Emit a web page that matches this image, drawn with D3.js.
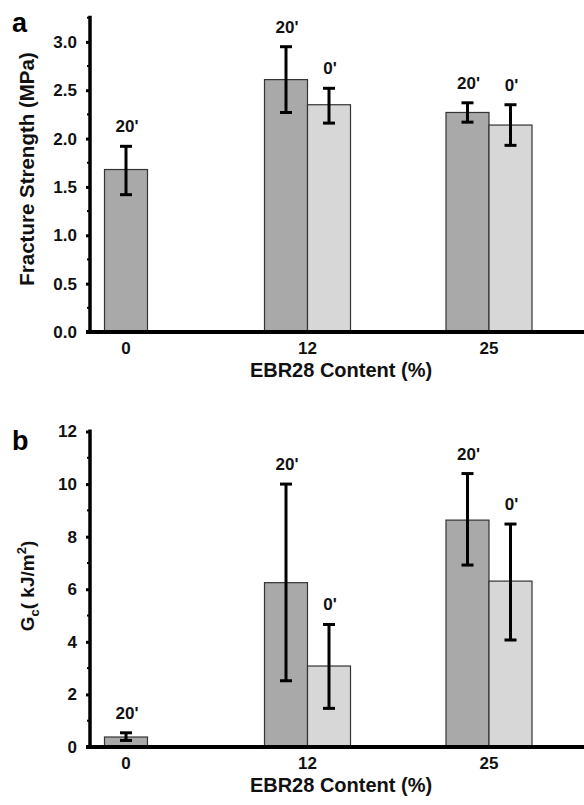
<!DOCTYPE html>
<html>
<head>
<meta charset="utf-8">
<script src="https://cdn.jsdelivr.net/npm/d3@7"></script>
<style>
  body { margin: 0; background: #fff; }
  svg { display: block; font-family: 'Liberation Sans', Arial, sans-serif; font-weight: bold; }
</style>
</head>
<body>
<div id="chart"></div>
<script>
// categories (EBR28 content, %) and series (cure condition)
const categories = ['0', '12', '25'];
const seriesNames = ["20'", "0'"];

// panel a: fracture strength (MPa)
const strength20 = [1.68, 2.61, 2.27];
const strength20Hi = [1.92, 2.95, 2.37];
const strength20Lo = [1.42, 2.27, 2.17];
const strength0 = [null, 2.35, 2.14];
const strength0Hi = [null, 2.52, 2.35];
const strength0Lo = [null, 2.16, 1.93];
const strengthTicks = [0, 0.5, 1.0, 1.5, 2.0, 2.5, 3.0];

// panel b: Gc (kJ/m2)
const gc20 = [0.38, 6.25, 8.63];
const gc20Hi = [0.54, 10.0, 10.4];
const gc20Lo = [0.25, 2.52, 6.92];
const gc0 = [null, 3.08, 6.31];
const gc0Hi = [null, 4.66, 8.48];
const gc0Lo = [null, 1.47, 4.07];
const gcTicks = [0, 2, 4, 6, 8, 10, 12];

const size = { width: 584, height: 805 };
const barW = 43;
const fills = { "20'": '#a9a9a9', "0'": '#d7d7d7' };

const svg = d3.select('#chart').append('svg')
  .attr('width', size.width)
  .attr('height', size.height);

// same x for both panels
const x = d3.scalePoint().domain(categories).range([126, 489]);

function buildRows(means, his, los) {
  // means/his/los are arrays per series, in seriesNames order
  const rows = [];
  categories.forEach((c, i) => {
    seriesNames.forEach((s, j) => {
      if (means[j][i] != null) {
        rows.push({ cat: c, series: s, v: means[j][i], hi: his[j][i], lo: los[j][i] });
      }
    });
  });
  return rows;
}

function drawPanel(opts) {
  const g = svg.append('g');
  const y = d3.scaleLinear().domain([0, opts.yMax]).range([opts.y0, opts.yTop]);
  const rows = buildRows(opts.means, opts.his, opts.los);

  // inner band per category: only the series that exist there
  const inner = {};
  categories.forEach((c) => {
    const present = rows.filter((r) => r.cat === c).map((r) => r.series);
    inner[c] = d3.scaleBand().domain(present)
      .range([-barW * present.length / 2, barW * present.length / 2]);
  });
  const bx = (d) => x(d.cat) + inner[d.cat](d.series);

  // bars
  g.selectAll('rect.bar')
    .data(rows)
    .enter()
    .append('rect')
    .attr('class', 'bar')
    .attr('x', bx)
    .attr('y', (d) => y(d.v))
    .attr('width', barW)
    .attr('height', (d) => y(0) - y(d.v))
    .attr('fill', (d) => fills[d.series])
    .attr('stroke', '#333')
    .attr('stroke-width', 1.2);

  // error bars
  const cap = 6;
  const eb = g.selectAll('g.err').data(rows).enter().append('g')
    .attr('stroke', '#000').attr('stroke-width', 3);
  eb.append('line')
    .attr('x1', (d) => bx(d) + barW / 2).attr('x2', (d) => bx(d) + barW / 2)
    .attr('y1', (d) => y(d.hi)).attr('y2', (d) => y(d.lo));
  eb.append('line')
    .attr('x1', (d) => bx(d) + barW / 2 - cap).attr('x2', (d) => bx(d) + barW / 2 + cap)
    .attr('y1', (d) => y(d.hi)).attr('y2', (d) => y(d.hi));
  eb.append('line')
    .attr('x1', (d) => bx(d) + barW / 2 - cap).attr('x2', (d) => bx(d) + barW / 2 + cap)
    .attr('y1', (d) => y(d.lo)).attr('y2', (d) => y(d.lo));

  // series labels above the error bars
  g.selectAll('text.lab')
    .data(rows)
    .enter()
    .append('text')
    .attr('x', (d) => bx(d) + barW / 2 + 1)
    .attr('y', (d) => y(d.hi) - 14)
    .attr('text-anchor', 'middle')
    .style('font-size', '17px')
    .attr('fill', '#111')
    .text((d) => d.series);

  // y axis
  const yAxis = g.append('g')
    .attr('transform', 'translate(90,0)')
    .call(d3.axisLeft(y).tickValues(opts.ticks).tickSize(4).tickPadding(9)
      .tickFormat(opts.fmt));
  yAxis.select('.domain').remove();
  yAxis.selectAll('.tick line').attr('stroke', '#000').attr('stroke-width', 3);
  yAxis.selectAll('.tick text')
    .style('font-size', '17px').style('font-weight', 'bold')
    .attr('fill', '#111');
  // minor ticks
  g.selectAll('line.minor')
    .data(opts.minor)
    .enter()
    .append('line')
    .attr('x1', 87).attr('x2', 90)
    .attr('y1', (d) => y(d)).attr('y2', (d) => y(d))
    .attr('stroke', '#000').attr('stroke-width', 2);
  g.append('line')
    .attr('x1', 90).attr('x2', 90)
    .attr('y1', y(opts.yMax) - 2).attr('y2', y(0))
    .attr('stroke', '#000').attr('stroke-width', 3.5);

  // x axis
  g.append('line')
    .attr('x1', 86).attr('x2', size.width)
    .attr('y1', y(0)).attr('y2', y(0))
    .attr('stroke', '#000').attr('stroke-width', 4);
  g.selectAll('text.xt')
    .data(categories)
    .enter()
    .append('text')
    .attr('x', (d) => x(d))
    .attr('y', y(0) + 22)
    .attr('text-anchor', 'middle')
    .style('font-size', '17px')
    .attr('fill', '#111')
    .text((d) => d);
  g.append('text')
    .attr('x', 341)
    .attr('y', y(0) + 45)
    .attr('text-anchor', 'middle')
    .style('font-size', '20px')
    .attr('fill', '#111')
    .text('EBR28 Content (%)');

  // panel letter
  g.append('text')
    .attr('x', 12).attr('y', opts.letterY)
    .style('font-size', '27px')
    .text(opts.letter);

  // y title
  const yt = g.append('text')
    .attr('transform', `translate(34,${opts.titleY}) rotate(-90)`)
    .attr('text-anchor', 'middle')
    .attr('fill', '#111');
  opts.title(yt);
}

drawPanel({
  means: [strength20, strength0], his: [strength20Hi, strength0Hi], los: [strength20Lo, strength0Lo],
  yMax: 3.25, y0: 332, yTop: 17.7,
  ticks: strengthTicks, minor: d3.range(0.25, 3.3, 0.5),
  fmt: d3.format('.1f'),
  letter: 'a', letterY: 32, titleY: 169,
  title: (t) => t.style('font-size', '20.5px').text('Fracture Strength (MPa)'),
});

drawPanel({
  means: [gc20, gc0], his: [gc20Hi, gc0Hi], los: [gc20Lo, gc0Lo],
  yMax: 12, y0: 747, yTop: 431.5,
  ticks: gcTicks, minor: d3.range(1, 12, 2),
  fmt: d3.format('d'),
  letter: 'b', letterY: 450, titleY: 586,
  title: (t) => {
    t.style('font-size', '19px');
    t.append('tspan').text('G');
    t.append('tspan').attr('dy', 5).style('font-size', '13px').text('c');
    t.append('tspan').attr('dy', -5).text('( kJ/m');
    t.append('tspan').attr('dy', -8).style('font-size', '13px').text('2');
    t.append('tspan').attr('dy', 8).text(')');
  },
});
</script>
</body>
</html>
